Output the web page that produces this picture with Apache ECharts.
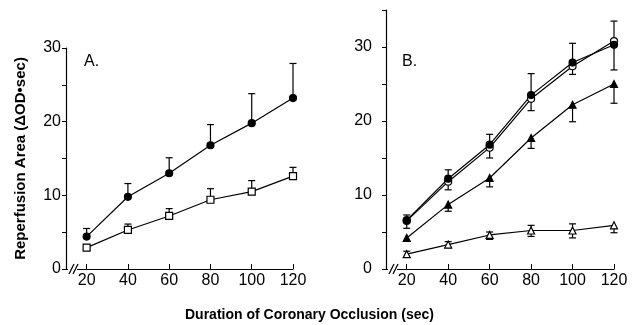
<!DOCTYPE html>
<html>
<head>
<meta charset="utf-8">
<script src="https://cdn.jsdelivr.net/npm/echarts@6/dist/echarts.min.js"></script>
<style>
  html, body { margin: 0; padding: 0; background: #fff; }
  #chart { width: 636px; height: 325px; }
</style>
</head>
<body>
<div id="chart"></div>
<script>
// occlusion durations (sec)
const durations = [20, 40, 60, 80, 100, 120]
const xTicks = [20, 40, 60, 80, 100, 120]

// panel A
const aFilled = [4.4, 9.8, 13.0, 16.8, 19.8, 23.2]
const aFilledHi = [5.5, 11.6, 15.1, 19.6, 23.8, 27.9]
const aOpen = [2.9, 5.3, 7.2, 9.4, 10.5, 12.6]
const aOpenHi = [3.3, 6.1, 8.2, 10.9, 12.0, 13.8]

// panel B
const bFilledCircle = [6.6, 12.2, 16.8, 23.5, 27.9, 30.3]
const bFilledCircleLo = [5.5, 12.2, 16.8, 23.5, 27.9, 26.9]
const bFilledCircleHi = [7.3, 13.4, 18.2, 26.4, 30.5, 33.5]
const bOpenCircle = [6.5, 11.8, 16.4, 23.0, 27.4, 30.8]
const bOpenCircleLo = [6.5, 10.7, 15.0, 21.4, 26.3, 30.8]
const bOpenCircleHi = [6.5, 11.8, 16.4, 23.0, 27.4, 30.8]
const bFilledTri = [4.2, 8.7, 12.3, 17.7, 22.2, 25.0]
const bFilledTriLo = [3.8, 7.8, 11.1, 16.3, 19.9, 22.4]
const bFilledTriHi = [4.2, 8.7, 12.3, 17.7, 22.2, 25.0]
const bOpenTri = [2.0, 3.3, 4.6, 5.2, 5.2, 5.9]
const bOpenTriLo = [1.6, 2.9, 4.0, 4.4, 4.2, 4.9]
const bOpenTriHi = [2.4, 3.7, 5.0, 5.9, 6.1, 5.9]

const font = '"Liberation Sans", Arial, sans-serif'

const pairs = vals => durations.map((d, i) => [d, vals[i]])
const errData = (vals, lo, hi) => durations.map((d, i) => [d, lo[i], hi[i], vals[i]])

const renderErr = (params, api) => {
    const x = api.value(0)
    const lo = api.coord([x, api.value(1)])
    const hi = api.coord([x, api.value(2)])
    const mid = api.coord([x, api.value(3)])
    const style = { stroke: '#000', lineWidth: 1.2 }
    const children = [{ type: 'line', shape: { x1: lo[0], y1: lo[1], x2: hi[0], y2: hi[1] }, style }]
    if (hi[1] < mid[1] - 0.5) {
        children.push({ type: 'line', shape: { x1: hi[0] - 3.5, y1: hi[1], x2: hi[0] + 3.5, y2: hi[1] }, style })
    }
    if (lo[1] > mid[1] + 0.5) {
        children.push({ type: 'line', shape: { x1: lo[0] - 3.5, y1: lo[1], x2: lo[0] + 3.5, y2: lo[1] }, style })
    }
    return { type: 'group', children }
}

const errSeries = (idx, vals, lo, hi) => ({
    type: 'custom',
    xAxisIndex: idx,
    yAxisIndex: idx,
    renderItem: renderErr,
    data: errData(vals, lo, hi),
    z: 1,
    silent: true
})

const lineSeries = (idx, vals, symbol, size, fill) => ({
    type: 'line',
    xAxisIndex: idx,
    yAxisIndex: idx,
    data: pairs(vals),
    symbol,
    symbolSize: size,
    showAllSymbol: true,
    lineStyle: { color: '#000', width: 1.2 },
    itemStyle: { color: fill, borderColor: '#000', borderWidth: 1.2 },
    z: 3,
    animation: false
})

const xAxisCfg = idx => ({
    type: 'value',
    gridIndex: idx,
    min: 10,
    max: 120,
    splitLine: { show: false },
    axisLine: { lineStyle: { color: '#000', width: 1.2 } },
    axisTick: { inside: true, length: 5, customValues: xTicks, lineStyle: { color: '#000' } },
    axisLabel: { customValues: xTicks, color: '#000', fontSize: 16, fontFamily: font, margin: 4 }
})

const yAxisCfg = (idx, max, margin) => ({
    type: 'value',
    gridIndex: idx,
    min: 0,
    max,
    interval: 5,
    splitLine: { show: false },
    axisLine: { show: true, lineStyle: { color: '#000', width: 1.2 } },
    axisTick: { show: true, length: 4, lineStyle: { color: '#000' } },
    axisLabel: {
        color: '#000', fontSize: 16, fontFamily: font, margin,
        formatter: v => (v % 10 === 0 && v <= 30 ? String(v) : '')
    }
})

const chart = echarts.init(document.getElementById('chart'))

const yA = yAxisCfg(0, 30, 5)
yA.name = 'Reperfusion Area (ΔOD•sec)'
yA.nameLocation = 'middle'
yA.nameRotate = 90
yA.nameGap = 38
yA.nameTextStyle = { color: '#000', fontSize: 15, fontWeight: 'bold', fontFamily: font }

chart.setOption({
    animation: false,
    grid: [
        { left: 66, top: 48, width: 227, height: 221 },
        { left: 386, top: 10, width: 228, height: 259 }
    ],
    title: {
        text: 'Duration of Coronary Occlusion (sec)',
        left: 180,
        top: 303,
        textStyle: { color: '#000', fontSize: 14, fontWeight: 'bold', fontFamily: font }
    },
    xAxis: [xAxisCfg(0), xAxisCfg(1)],
    yAxis: [yA, yAxisCfg(1, 35, 14)],
    series: [
        errSeries(0, aFilled, aFilled, aFilledHi),
        errSeries(0, aOpen, aOpen, aOpenHi),
        lineSeries(0, aFilled, 'circle', 7, '#000'),
        lineSeries(0, aOpen, 'rect', 7, '#fff'),

        errSeries(1, bFilledCircle, bFilledCircleLo, bFilledCircleHi),
        errSeries(1, bOpenCircle, bOpenCircleLo, bOpenCircleHi),
        errSeries(1, bFilledTri, bFilledTriLo, bFilledTriHi),
        errSeries(1, bOpenTri, bOpenTriLo, bOpenTriHi),
        lineSeries(1, bOpenTri, 'triangle', 7, '#fff'),
        lineSeries(1, bFilledTri, 'triangle', 7, '#000'),
        lineSeries(1, bOpenCircle, 'circle', 7, '#fff'),
        lineSeries(1, bFilledCircle, 'circle', 7, '#000')
    ]
})

// panel letters and axis break marks "//" near each origin
const extras = [
    { type: 'text', left: 84, top: 54, style: { text: 'A.', fill: '#000', font: '16px ' + font } },
    { type: 'text', left: 402, top: 54, style: { text: 'B.', fill: '#000', font: '16px ' + font } }
]
;[0, 1].forEach(idx => {
    const o = chart.convertToPixel({ gridIndex: idx }, [10, 0])
    const x0 = o[0] + 2
    const y0 = o[1]
    extras.push({ type: 'rect', shape: { x: x0, y: y0 - 2, width: 9, height: 4 }, style: { fill: '#fff' }, z: 10 })
    extras.push({ type: 'line', shape: { x1: x0 + 1, y1: y0 + 5, x2: x0 + 6, y2: y0 - 5 }, style: { stroke: '#000', lineWidth: 1.2 }, z: 11 })
    extras.push({ type: 'line', shape: { x1: x0 + 5, y1: y0 + 5, x2: x0 + 10, y2: y0 - 5 }, style: { stroke: '#000', lineWidth: 1.2 }, z: 11 })
})
chart.setOption({ graphic: extras })
</script>
</body>
</html>
